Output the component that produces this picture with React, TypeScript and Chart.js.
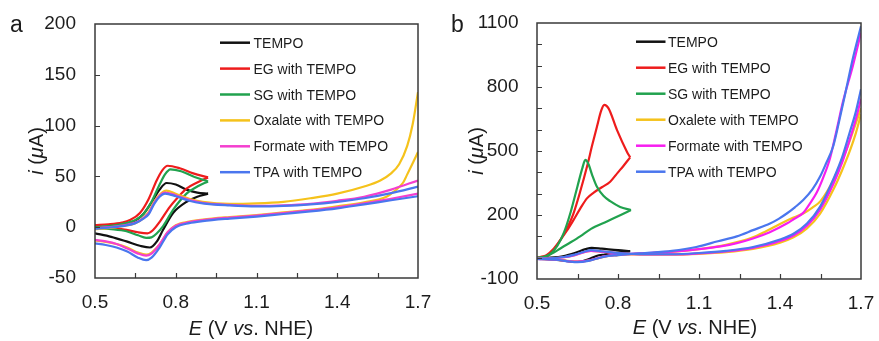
import React, { useEffect, useRef } from 'react';
import { Chart, registerables } from 'chart.js';

Chart.register(...registerables);

type Pt = [number, number];

const FONT = '"Liberation Sans", Arial, Helvetica, sans-serif';

// ---------- Panel a data (E in V vs NHE, i in µA) ----------
const aTempoFwd: Pt[] = [[0.5, -1], [0.55, 0], [0.6, 2], [0.65, 6.5], [0.68, 13], [0.716, 27], [0.74, 37], [0.766, 43.5], [0.8, 42], [0.84, 37], [0.88, 34], [0.92, 33]];
const aTempoRev: Pt[] = [[0.92, 33], [0.88, 30], [0.84, 25], [0.79, 14], [0.753, -2.5], [0.73, -14], [0.704, -20], [0.67, -18.5], [0.617, -14], [0.56, -9.5], [0.5, -6]];
const aEgFwd: Pt[] = [[0.5, 2], [0.55, 2.8], [0.6, 4.5], [0.63, 7], [0.667, 14], [0.698, 27], [0.729, 46], [0.75, 56], [0.77, 60.5], [0.815, 58], [0.865, 53], [0.92, 49]];
const aEgRev: Pt[] = [[0.92, 49], [0.88, 44], [0.84, 38], [0.81, 30], [0.778, 20], [0.741, 5.5], [0.715, -3], [0.695, -6], [0.66, -5], [0.617, -2.6], [0.56, -1], [0.5, -0.5]];
const aSgFwd: Pt[] = [[0.5, 0], [0.55, 1], [0.6, 3], [0.65, 7], [0.68, 13], [0.71, 25], [0.74, 42], [0.76, 52], [0.78, 57], [0.82, 55], [0.87, 49.5], [0.92, 45]];
const aSgRev: Pt[] = [[0.92, 45], [0.88, 40], [0.84, 33], [0.79, 17], [0.753, 1], [0.73, -6], [0.71, -10], [0.69, -10.5], [0.66, -8], [0.617, -4], [0.56, -2], [0.5, -1]];
const aOxFwd: Pt[] = [[0.5, -2], [0.55, -1], [0.6, 1], [0.65, 4], [0.68, 9], [0.7, 15], [0.72, 25], [0.74, 32], [0.765, 36], [0.8, 33], [0.85, 28], [0.9, 25], [1.0, 23], [1.1, 23.5], [1.2, 25], [1.3, 28.5], [1.4, 33], [1.5, 40], [1.56, 46], [1.6, 53], [1.63, 62], [1.66, 80], [1.68, 101], [1.7, 133]];
const aOxRev: Pt[] = [[1.7, 74], [1.682, 64], [1.66, 52], [1.645, 44], [1.61, 35], [1.583, 30], [1.5, 24.5], [1.4, 20.5], [1.3, 17], [1.2, 14.5], [1.1, 12], [1.0, 10], [0.9, 7.5], [0.85, 5.5], [0.8, 2], [0.77, -5], [0.74, -17], [0.71, -25], [0.69, -27], [0.66, -25], [0.62, -20], [0.58, -16.5], [0.54, -14.5], [0.5, -13]];
const aFmFwd: Pt[] = [[0.5, -1], [0.55, 0], [0.6, 1.5], [0.65, 4.5], [0.68, 9], [0.7, 14], [0.72, 24], [0.74, 31], [0.76, 34], [0.8, 31.5], [0.85, 27], [0.9, 24], [1.0, 22], [1.1, 21], [1.2, 21.5], [1.3, 23], [1.4, 26], [1.5, 30], [1.6, 37], [1.7, 46]];
const aFmRev: Pt[] = [[1.7, 33], [1.6, 28], [1.5, 23.5], [1.4, 19.5], [1.3, 16.5], [1.2, 14], [1.1, 11.5], [1.0, 9.5], [0.9, 7], [0.85, 5], [0.8, 1.5], [0.77, -5], [0.74, -17], [0.71, -26], [0.69, -28], [0.66, -26], [0.62, -21], [0.58, -16.5], [0.54, -14], [0.5, -12.5]];
const aTpaFwd: Pt[] = [[0.5, -1.5], [0.55, -0.5], [0.6, 1], [0.65, 4], [0.68, 8.5], [0.7, 13], [0.72, 23], [0.74, 30], [0.76, 33], [0.8, 30.5], [0.85, 26], [0.9, 23.5], [1.0, 21.5], [1.1, 20.5], [1.2, 21], [1.3, 22.5], [1.4, 25], [1.5, 28.5], [1.6, 33.5], [1.7, 40]];
const aTpaRev: Pt[] = [[1.7, 30.5], [1.6, 26.5], [1.5, 22.5], [1.4, 18.5], [1.3, 15.5], [1.2, 13], [1.1, 10.5], [1.0, 8.5], [0.9, 6], [0.85, 4], [0.8, 0], [0.77, -7], [0.74, -20], [0.71, -30], [0.69, -32.5], [0.66, -30], [0.62, -24], [0.58, -20], [0.54, -17.5], [0.5, -16]];

// ---------- Panel b data ----------
const bTempoFwd: Pt[] = [[0.5, -3], [0.55, 0], [0.6, 8], [0.64, 22], [0.68, 40], [0.703, 46], [0.74, 42], [0.8, 35], [0.845, 31]];
const bTempoRev: Pt[] = [[0.845, 31], [0.8, 24], [0.75, 15], [0.72, 8], [0.69, -8], [0.66, -19], [0.635, -20], [0.6, -14], [0.55, -8], [0.5, -5]];
const bEgFwd: Pt[] = [[0.5, 0], [0.53, 3], [0.561, 35], [0.59, 90], [0.61, 135], [0.635, 207], [0.66, 310], [0.685, 426], [0.705, 530], [0.722, 614], [0.738, 690], [0.749, 716], [0.765, 700], [0.796, 599], [0.833, 497], [0.845, 470]];
const bEgRev: Pt[] = [[0.845, 470], [0.82, 430], [0.8, 400], [0.771, 356], [0.74, 330], [0.71, 305], [0.685, 278], [0.66, 230], [0.635, 176], [0.61, 125], [0.586, 82], [0.56, 40], [0.535, 12], [0.512, 3], [0.5, 0]];
const bSgFwd: Pt[] = [[0.5, 0], [0.525, 3], [0.55, 18], [0.575, 55], [0.6, 118], [0.625, 215], [0.65, 335], [0.668, 420], [0.679, 458], [0.69, 440], [0.705, 385], [0.722, 332], [0.746, 290], [0.771, 265], [0.808, 238], [0.848, 223]];
const bSgRev: Pt[] = [[0.848, 223], [0.81, 200], [0.759, 170], [0.7, 135], [0.66, 100], [0.611, 62], [0.585, 42], [0.562, 24], [0.535, 8], [0.512, 0], [0.5, -2]];
const bOxFwd: Pt[] = [[0.5, -5], [0.55, -3], [0.6, 2], [0.64, 12], [0.68, 28], [0.7, 32], [0.74, 28], [0.8, 20], [0.9, 14], [1.0, 14], [1.1, 18], [1.2, 26], [1.3, 41], [1.4, 70], [1.45, 95], [1.5, 137], [1.548, 205], [1.6, 325], [1.63, 410], [1.66, 505], [1.68, 580], [1.7, 672]];
const bOxRev: Pt[] = [[1.7, 700], [1.65, 520], [1.6, 370], [1.55, 265], [1.52, 235], [1.486, 207], [1.45, 188], [1.4, 158], [1.35, 125], [1.3, 95], [1.2, 60], [1.1, 40], [1.0, 27], [0.9, 20], [0.85, 17], [0.8, 12], [0.75, 5], [0.72, -5], [0.69, -14], [0.65, -18], [0.62, -16], [0.58, -10], [0.5, -6]];
const bFmFwd: Pt[] = [[0.5, -5], [0.55, -3], [0.6, 2], [0.64, 12], [0.68, 28], [0.7, 32], [0.74, 28], [0.8, 20], [0.9, 15], [1.0, 15], [1.1, 20], [1.2, 29], [1.3, 46], [1.4, 78], [1.45, 104], [1.5, 150], [1.548, 224], [1.6, 352], [1.63, 445], [1.66, 560], [1.68, 645], [1.7, 745]];
const bFmRev: Pt[] = [[1.7, 1055], [1.67, 900], [1.634, 735], [1.61, 600], [1.585, 465], [1.56, 375], [1.536, 305], [1.51, 252], [1.486, 210], [1.45, 180], [1.425, 160], [1.36, 118], [1.3, 90], [1.24, 68], [1.18, 53], [1.1, 40], [1.0, 28], [0.9, 21], [0.85, 18], [0.8, 13], [0.75, 6], [0.72, -4], [0.69, -14], [0.65, -19], [0.62, -17], [0.58, -11], [0.5, -6]];
const bTpaFwd: Pt[] = [[0.5, -5], [0.55, -3], [0.6, 3], [0.64, 14], [0.68, 30], [0.7, 35], [0.74, 30], [0.8, 22], [0.9, 16], [1.0, 16], [1.1, 22], [1.2, 32], [1.3, 50], [1.4, 85], [1.45, 112], [1.5, 160], [1.548, 238], [1.6, 375], [1.63, 470], [1.66, 595], [1.68, 680], [1.7, 790]];
const bTpaRev: Pt[] = [[1.7, 1085], [1.67, 935], [1.646, 795], [1.62, 645], [1.597, 522], [1.57, 440], [1.548, 379], [1.52, 320], [1.486, 270], [1.455, 236], [1.425, 207], [1.395, 182], [1.363, 160], [1.3, 129], [1.24, 100], [1.17, 77], [1.09, 50], [1.0, 32], [0.9, 22], [0.85, 18], [0.8, 12], [0.75, 5], [0.72, -5], [0.69, -15], [0.65, -21], [0.62, -18], [0.58, -11], [0.5, -6]];

// ---------- Labels, colours, axes ----------
const labelsA = ['TEMPO', 'EG with TEMPO', 'SG with TEMPO', 'Oxalate with TEMPO', 'Formate with TEMPO', 'TPA with TEMPO'];
const labelsB = ['TEMPO', 'EG with TEMPO', 'SG with TEMPO', 'Oxalete with TEMPO', 'Formate with TEMPO', 'TPA with TEMPO'];
const colorsA = ['#111111', '#ee1c1c', '#21a24e', '#f5c21b', '#f43fcf', '#4a76ee'];
const colorsB = ['#111111', '#ee1c1c', '#21a24e', '#f5c21b', '#f71ef0', '#4a76ee'];

const xMin = 0.5, xMax = 1.7, xStep = 0.15;
const yAMin = -50, yAMax = 200, yAStep = 50;
const yBMin = -100, yBMax = 1100, yBStep = 100;

type Part = { t: string; it: boolean };
const yTitle: Part[] = [{ t: 'i', it: true }, { t: ' (', it: false }, { t: 'μ', it: true }, { t: 'A)', it: false }];
const xTitle: Part[] = [{ t: 'E', it: true }, { t: ' (V ', it: false }, { t: 'vs', it: true }, { t: '. NHE)', it: false }];

interface PanelCfg {
  letter: string;
  width: number;
  area: { left: number; top: number; right: number; bottom: number };
  yMin: number; yMax: number; yStep: number; yLabelEvery: number;
  series: { label: string; color: string; fwd: Pt[]; rev: Pt[] }[];
  legend: { lineX0: number; lineX1: number; textX: number; y0: number; dy: number };
  yTitlePos: { x: number; y: number };
  xTitlePos: { x: number; y: number };
  letterPos: { x: number; y: number };
  yPad: number;
}

const panelA: PanelCfg = {
  letter: 'a',
  width: 440,
  area: { left: 95, top: 24, right: 418, bottom: 278 },
  yMin: yAMin, yMax: yAMax, yStep: yAStep, yLabelEvery: 1,
  series: [
    { label: labelsA[0], color: colorsA[0], fwd: aTempoFwd, rev: aTempoRev },
    { label: labelsA[1], color: colorsA[1], fwd: aEgFwd, rev: aEgRev },
    { label: labelsA[2], color: colorsA[2], fwd: aSgFwd, rev: aSgRev },
    { label: labelsA[3], color: colorsA[3], fwd: aOxFwd, rev: aOxRev },
    { label: labelsA[4], color: colorsA[4], fwd: aFmFwd, rev: aFmRev },
    { label: labelsA[5], color: colorsA[5], fwd: aTpaFwd, rev: aTpaRev },
  ],
  legend: { lineX0: 220, lineX1: 250, textX: 253.5, y0: 42.7, dy: 25.9 },
  yTitlePos: { x: 43, y: 151 },
  xTitlePos: { x: 251, y: 335 },
  letterPos: { x: 10, y: 31.5 },
  yPad: 19,
};

const panelB: PanelCfg = {
  letter: 'b',
  width: 439,
  area: { left: 97, top: 23, right: 421, bottom: 279 },
  yMin: yBMin, yMax: yBMax, yStep: yBStep, yLabelEvery: 3,
  series: [
    { label: labelsB[0], color: colorsB[0], fwd: bTempoFwd, rev: bTempoRev },
    { label: labelsB[1], color: colorsB[1], fwd: bEgFwd, rev: bEgRev },
    { label: labelsB[2], color: colorsB[2], fwd: bSgFwd, rev: bSgRev },
    { label: labelsB[3], color: colorsB[3], fwd: bOxFwd, rev: bOxRev },
    { label: labelsB[4], color: colorsB[4], fwd: bFmFwd, rev: bFmRev },
    { label: labelsB[5], color: colorsB[5], fwd: bTpaFwd, rev: bTpaRev },
  ],
  legend: { lineX0: 196, lineX1: 225.5, textX: 228, y0: 41.7, dy: 26 },
  yTitlePos: { x: 43, y: 151 },
  xTitlePos: { x: 255, y: 333.5 },
  letterPos: { x: 11, y: 31.5 },
  yPad: 18.5,
};

const FRAME = '#3a3a3a';
const TEXT = '#1c1c1c';

function drawRich(ctx: CanvasRenderingContext2D, parts: Part[], size: number, x: number, y: number) {
  let total = 0;
  const widths = parts.map((p) => {
    ctx.font = `${p.it ? 'italic ' : ''}${size}px ${FONT}`;
    const w = ctx.measureText(p.t).width;
    total += w;
    return w;
  });
  let cx = x - total / 2;
  ctx.textAlign = 'left';
  ctx.textBaseline = 'alphabetic';
  parts.forEach((p, i) => {
    ctx.font = `${p.it ? 'italic ' : ''}${size}px ${FONT}`;
    ctx.fillText(p.t, cx, y);
    cx += widths[i];
  });
}

function makeDecor(cfg: PanelCfg) {
  return {
    id: 'decor' + cfg.letter,
    afterDatasetsDraw(chart: any) {
      const { ctx, chartArea: a, scales } = chart;
      ctx.save();
      ctx.strokeStyle = FRAME;
      ctx.lineWidth = 1.2;
      ctx.beginPath();
      const xs = scales.x;
      xs.ticks.forEach((t: any, i: number) => {
        if (i === 0 || i === xs.ticks.length - 1) return;
        const px = Math.round(xs.getPixelForValue(t.value)) + 0.5;
        ctx.moveTo(px, a.bottom);
        ctx.lineTo(px, a.bottom - 5);
      });
      const ys = scales.y;
      ys.ticks.forEach((t: any, i: number) => {
        if (i === 0 || i === ys.ticks.length - 1) return;
        const py = Math.round(ys.getPixelForValue(t.value)) + 0.5;
        ctx.moveTo(a.left, py);
        ctx.lineTo(a.left + 5, py);
      });
      ctx.stroke();
      ctx.lineWidth = 1.5;
      ctx.strokeRect(a.left, a.top, a.right - a.left, a.bottom - a.top);
      ctx.restore();
    },
    afterDraw(chart: any) {
      const ctx: CanvasRenderingContext2D = chart.ctx;
      ctx.save();
      const L = cfg.legend;
      cfg.series.forEach((s, i) => {
        const cy = L.y0 + i * L.dy;
        ctx.strokeStyle = s.color;
        ctx.lineWidth = 2.5;
        ctx.beginPath();
        ctx.moveTo(L.lineX0, cy);
        ctx.lineTo(L.lineX1, cy);
        ctx.stroke();
        ctx.fillStyle = TEXT;
        ctx.font = `14px ${FONT}`;
        ctx.textAlign = 'left';
        ctx.textBaseline = 'alphabetic';
        ctx.fillText(s.label, L.textX, cy + 5);
      });
      ctx.fillStyle = TEXT;
      drawRich(ctx, xTitle, 20, cfg.xTitlePos.x, cfg.xTitlePos.y);
      ctx.save();
      ctx.translate(cfg.yTitlePos.x, cfg.yTitlePos.y);
      ctx.rotate(-Math.PI / 2);
      drawRich(ctx, yTitle, 20, 0, 0);
      ctx.restore();
      ctx.font = `23px ${FONT}`;
      ctx.textAlign = 'left';
      ctx.textBaseline = 'alphabetic';
      ctx.fillText(cfg.letter, cfg.letterPos.x, cfg.letterPos.y);
      ctx.restore();
    },
  };
}

function Panel({ cfg, left }: { cfg: PanelCfg; left: number }) {
  const ref = useRef<HTMLCanvasElement>(null);
  useEffect(() => {
    if (!ref.current) return;
    const H = 341;
    const datasets: any[] = [];
    cfg.series.forEach((s, si) => {
      [s.fwd, s.rev].forEach((arr) => {
        datasets.push({
          label: s.label,
          data: arr.map(([x, y]) => ({ x, y })),
          borderColor: s.color,
          backgroundColor: s.color,
          borderWidth: 2.2,
          pointRadius: 0,
          showLine: true,
          fill: false,
          cubicInterpolationMode: 'monotone',
          clip: 0,
          order: cfg.series.length - si,
        });
      });
    });
    const chart = new Chart(ref.current, {
      type: 'scatter',
      data: { datasets },
      options: {
        responsive: false,
        animation: false,
        events: [],
        layout: {
          padding: { left: 0, top: cfg.area.top, right: cfg.width - cfg.area.right, bottom: 0 },
        },
        plugins: { legend: { display: false }, tooltip: { enabled: false } },
        scales: {
          x: {
            type: 'linear',
            min: xMin,
            max: xMax,
            grid: { display: false, drawTicks: false },
            border: { display: false },
            afterFit: (sc: any) => {
              sc.height = H - cfg.area.bottom;
              sc.paddingLeft = 0;
              sc.paddingRight = 0;
            },
            ticks: {
              stepSize: xStep,
              autoSkip: false,
              maxRotation: 0,
              padding: 13,
              color: TEXT,
              font: { family: FONT, size: 19 },
              callback: (v: any, i: number) => (i % 2 === 0 ? Number(v).toFixed(1) : ''),
            },
          },
          y: {
            type: 'linear',
            min: cfg.yMin,
            max: cfg.yMax,
            grid: { display: false, drawTicks: false },
            border: { display: false },
            afterFit: (sc: any) => {
              sc.width = cfg.area.left;
              sc.paddingTop = 0;
              sc.paddingBottom = 0;
            },
            ticks: {
              stepSize: cfg.yStep,
              autoSkip: false,
              padding: cfg.yPad,
              color: TEXT,
              font: { family: FONT, size: 19 },
              callback: (v: any, i: number) => (i % cfg.yLabelEvery === 0 ? String(Math.round(Number(v))) : ''),
            },
          },
        },
      },
      plugins: [makeDecor(cfg)],
    } as any);
    return () => chart.destroy();
  }, [cfg]);
  return (
    <canvas
      ref={ref}
      width={cfg.width}
      height={341}
      style={{ position: 'absolute', left, top: 0, width: cfg.width, height: 341 }}
    />
  );
}

export default function App() {
  return (
    <div style={{ position: 'absolute', left: 0, top: 0, width: 879, height: 341, background: '#ffffff', overflow: 'hidden' }}>
      <Panel cfg={panelA} left={0} />
      <Panel cfg={panelB} left={440} />
    </div>
  );
}
